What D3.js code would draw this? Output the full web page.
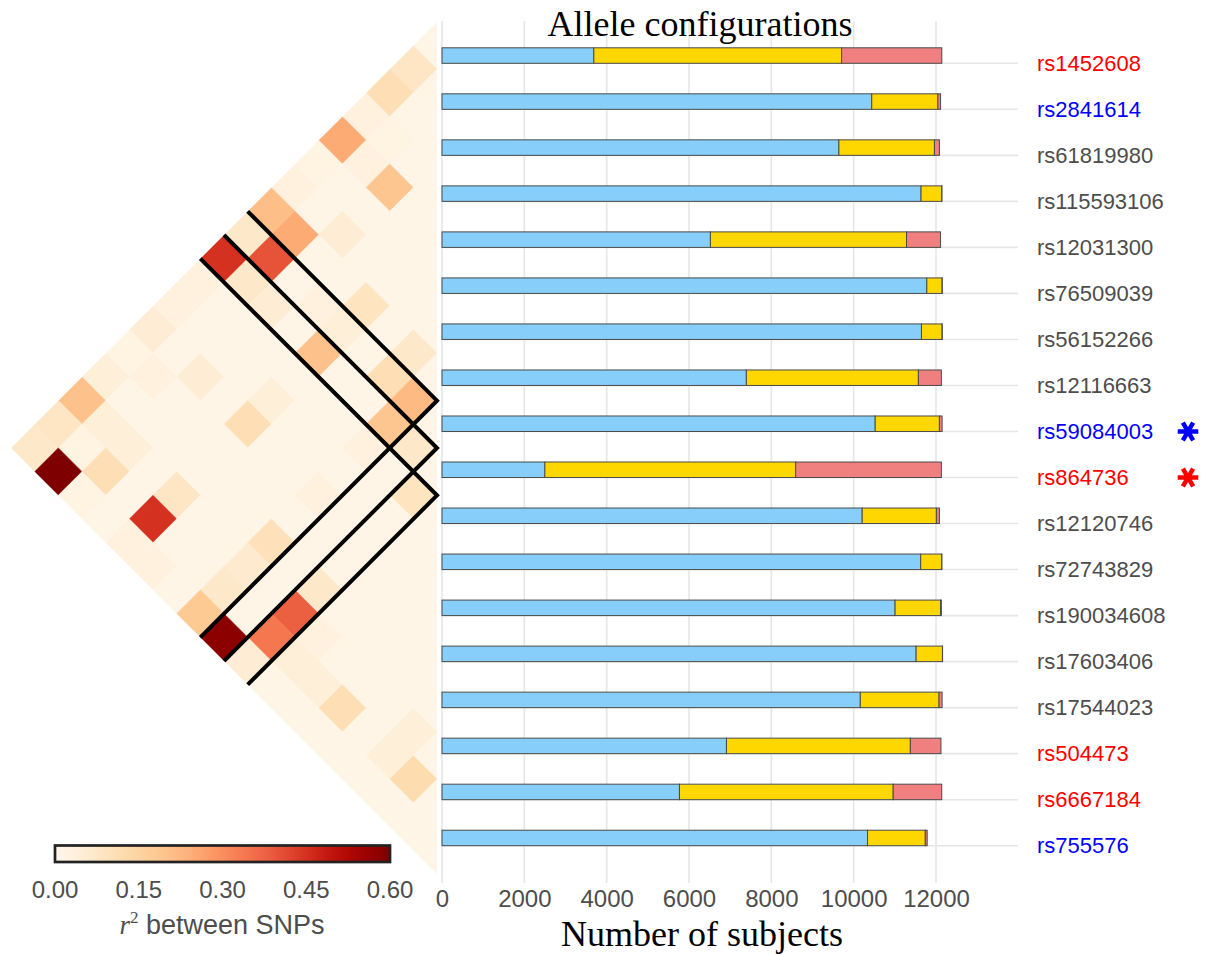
<!DOCTYPE html>
<html>
<head>
<meta charset="utf-8">
<script src="https://cdn.jsdelivr.net/npm/d3@7"></script>
<style>
  body { margin: 0; background: #fff; }
  svg { display: block; }
</style>
</head>
<body>
<div id="chart"></div>
<script>
const snps = ["rs1452608", "rs2841614", "rs61819980", "rs115593106", "rs12031300", "rs76509039",
    "rs56152266", "rs12116663", "rs59084003", "rs864736", "rs12120746", "rs72743829",
    "rs190034608", "rs17603406", "rs17544023", "rs504473", "rs6667184", "rs755576"];
const labelColours = ["#ff0000", "#0000ff", "#4d4d4d", "#4d4d4d", "#4d4d4d", "#4d4d4d",
    "#4d4d4d", "#4d4d4d", "#0000ff", "#ff0000", "#4d4d4d", "#4d4d4d",
    "#4d4d4d", "#4d4d4d", "#4d4d4d", "#ff0000", "#ff0000", "#0000ff"];
const starred = ["rs59084003", "rs864736"];

// allele configuration counts per SNP
const homRef = [3688, 10439, 9641, 11637, 6520, 11777, 11647, 7393, 10523, 2499, 10207, 11628, 11006, 11517, 10161, 6910, 5768, 10337];
const het    = [6019, 1607, 2321, 502, 4764, 371, 501, 4179, 1560, 6092, 1802, 511, 1105, 640, 1913, 4467, 5192, 1403];
const homAlt = [2434, 65, 121, 4, 827, 3, 3, 558, 65, 3539, 74, 3, 19, 3, 74, 743, 1179, 46];
const xTicks = [0, 2000, 4000, 6000, 8000, 10000, 12000];

// r^2 between SNP pairs [i, j, r2]; pairs not listed are ~0.01
const ldPairs = [
    [0,1,0.08],[0,2,0.11],[0,3,0.03],[0,4,0.25],[0,5,0.02],[0,6,0.03],[0,7,0.21],[0,8,0.07],
    [0,9,0.45],[0,10,0.03],[0,11,0.03],[0,12,0.05],[0,13,0.02],[0,14,0.04],[0,15,0.2],[0,16,0.08],[0,17,0.07],
    [1,3,0.02],[1,4,0.03],[1,7,0.25],[1,8,0.4],[1,9,0.07],[1,13,0.03],[1,15,0.04],[1,16,0.02],[1,17,0.6],
    [2,4,0.19],[2,6,0.05],[2,9,0.05],[2,12,0.05],[2,15,0.04],[2,16,0.11],[2,17,0.02],
    [3,8,0.03],[4,7,0.09],[4,8,0.04],[4,9,0.2],[4,11,0.04],[4,12,0.11],[4,15,0.08],[4,16,0.45],[4,17,0.03],
    [5,17,0.03],[6,7,0.07],[6,8,0.11],[7,8,0.22],[7,9,0.19],[7,10,0.03],[7,12,0.03],[7,14,0.1],[7,15,0.06],
    [7,16,0.07],[7,17,0.18],[8,9,0.07],[8,17,0.58],[9,10,0.09],[9,14,0.07],[9,15,0.38],[9,16,0.34],[9,17,0.05],
    [10,15,0.03],[10,16,0.04],[11,16,0.04],[12,16,0.11],[14,15,0.04],[14,16,0.04],[15,16,0.12]
];
const highlightBounds = [8, 9, 10];
const r2Ticks = [0, 0.15, 0.30, 0.45, 0.60];

const width = 1210, height = 954;
const svg = d3.select("#chart").append("svg").attr("width", width).attr("height", height);

// ---------- LD triangle ----------
const tri = {right: 437, top: 22, bottom: 874};
const yLD = d3.scaleBand().domain(d3.range(snps.length)).range([tri.top, tri.bottom]);
const half = yLD.bandwidth() / 2;
const colourLD = d3.scaleSequential(d3.interpolateOrRd).domain([0, 0.6]);

const mid = (tri.top + tri.bottom) / 2;
svg.append("clipPath").attr("id", "tri").append("path")
    .attr("d", `M${tri.right},${tri.top}L${tri.right - (tri.bottom - tri.top) / 2},${mid}L${tri.right},${tri.bottom}Z`);

const r2 = new Map(ldPairs.map(([i, j, v]) => [i + "-" + j, v]));
const cells = [];
snps.forEach((_, i) => {
    for (let j = i; j < snps.length; j++) cells.push({i, j, v: r2.get(i + "-" + j) ?? 0.01});
});

const ld = svg.append("g").attr("clip-path", "url(#tri)");
ld.selectAll("path").data(cells).enter().append("path")
    .attr("d", d => {
        const cx = tri.right - (yLD(d.j) - yLD(d.i)) / 2;
        const cy = (yLD(d.i) + yLD(d.j)) / 2 + half;
        return `M${cx},${cy - half}L${cx + half},${cy}L${cx},${cy + half}L${cx - half},${cy}Z`;
    })
    .attr("fill", d => colourLD(d.v))
    .attr("stroke", d => colourLD(d.v))
    .attr("stroke-width", 0.6);

// highlighted SNP strips
svg.selectAll(".chevron").data(highlightBounds).enter().append("path")
    .attr("class", "chevron")
    .attr("d", k => {
        const b = yLD(k);
        return `M${tri.right - (b - tri.top) / 2},${(b + tri.top) / 2}L${tri.right},${b}` +
            `L${tri.right - (tri.bottom - b) / 2},${(b + tri.bottom) / 2}`;
    })
    .attr("fill", "none").attr("stroke", "#000").attr("stroke-width", 4)
    .attr("stroke-linejoin", "miter");

// colour bar
const r2X = d3.scaleLinear().domain([0, 0.6]).range([55, 390]);
const grad = svg.append("defs").append("linearGradient").attr("id", "ldgrad");
d3.range(0, 1.0001, 0.05).forEach(t => {
    grad.append("stop").attr("offset", t).attr("stop-color", colourLD(t * 0.6));
});
svg.append("rect").attr("x", r2X(0)).attr("y", 845.5)
    .attr("width", r2X(0.6) - r2X(0)).attr("height", 16.5)
    .attr("fill", "url(#ldgrad)").attr("stroke", "#222").attr("stroke-width", 2.7);

svg.selectAll(".r2tick").data(r2Ticks).enter().append("text")
    .attr("x", d => r2X(d)).attr("y", 898)
    .attr("text-anchor", "middle")
    .style("font-family", "Liberation Sans, Arial, sans-serif").style("font-size", "24px")
    .style("fill", "#4d4d4d")
    .text(d => d.toFixed(2));

const r2Label = svg.append("text").attr("x", 222).attr("y", 934).attr("text-anchor", "middle")
    .style("font-family", "Liberation Sans, Arial, sans-serif").style("font-size", "27px").style("fill", "#4d4d4d");
r2Label.append("tspan").style("font-family", "Liberation Serif, serif").style("font-style", "italic").text("r");
r2Label.append("tspan").attr("dy", -11).style("font-family", "Liberation Serif, serif").style("font-size", "17px").text("2");
r2Label.append("tspan").attr("dy", 11).text(" between SNPs");

// ---------- stacked bars ----------
const x = d3.scaleLinear().domain([0, 12000]).range([442, 936]);
const y = d3.scalePoint().domain(snps).range([63.3, 845.7]);
const panel = {left: 442, right: 1018, top: 21, bottom: 883};
const barH = 15.5;

const table = snps.map((s, i) => ({snp: s, homRef: homRef[i], het: het[i], homAlt: homAlt[i]}));
const stack = d3.stack().keys(["homRef", "het", "homAlt"])(table);
const fills = {homRef: "#87cefa", het: "#ffd700", homAlt: "#f08080"};

// grid
svg.append("g").selectAll("line").data(xTicks).enter().append("line")
    .attr("x1", d => x(d)).attr("x2", d => x(d))
    .attr("y1", panel.top).attr("y2", panel.bottom)
    .attr("stroke", "#e6e6e6").attr("stroke-width", 1.6);
svg.append("g").selectAll("line").data(snps).enter().append("line")
    .attr("x1", panel.left).attr("x2", panel.right)
    .attr("y1", d => y(d)).attr("y2", d => y(d))
    .attr("stroke", "#e6e6e6").attr("stroke-width", 1.6);

svg.append("g").selectAll("g").data(stack).enter().append("g")
    .attr("fill", d => fills[d.key])
    .selectAll("rect").data(d => d).enter().append("rect")
    .attr("x", d => x(d[0])).attr("y", d => y(d.data.snp) - barH)
    .attr("width", d => x(d[1]) - x(d[0])).attr("height", barH)
    .attr("stroke", "#4a4a4a").attr("stroke-width", 1);

// axes
const xAxis = svg.append("g").attr("transform", `translate(0,${panel.bottom})`)
    .call(d3.axisBottom(x).tickValues(xTicks).tickSize(0).tickPadding(7).tickFormat(d3.format("d")));
xAxis.select(".domain").remove();
xAxis.selectAll("text").style("font-family", "Liberation Sans, Arial, sans-serif")
    .style("font-size", "24px").style("fill", "#4d4d4d");

const yAxis = svg.append("g").attr("transform", `translate(${panel.right},0)`)
    .call(d3.axisRight(y).tickSize(0).tickPadding(19));
yAxis.select(".domain").remove();
yAxis.selectAll("text").style("font-family", "Liberation Sans, Arial, sans-serif")
    .style("font-size", "22px").style("fill", (d, i) => labelColours[i]);

// asterisks for the two highlighted SNPs
svg.selectAll(".star").data(starred).enter().append("path")
    .attr("transform", d => `translate(1188,${y(d)}) rotate(90)`)
    .attr("d", d3.symbol(d3.symbolAsterisk, 300)())
    .attr("stroke", d => labelColours[snps.indexOf(d)]).attr("stroke-width", 4.5);

// titles
svg.append("text").attr("x", 700).attr("y", 36).attr("text-anchor", "middle")
    .style("font-family", "Liberation Serif, Times New Roman, serif").style("font-size", "36px")
    .text("Allele configurations");
svg.append("text").attr("x", 702).attr("y", 946).attr("text-anchor", "middle")
    .style("font-family", "Liberation Serif, Times New Roman, serif").style("font-size", "36px")
    .text("Number of subjects");
</script>
</body>
</html>
